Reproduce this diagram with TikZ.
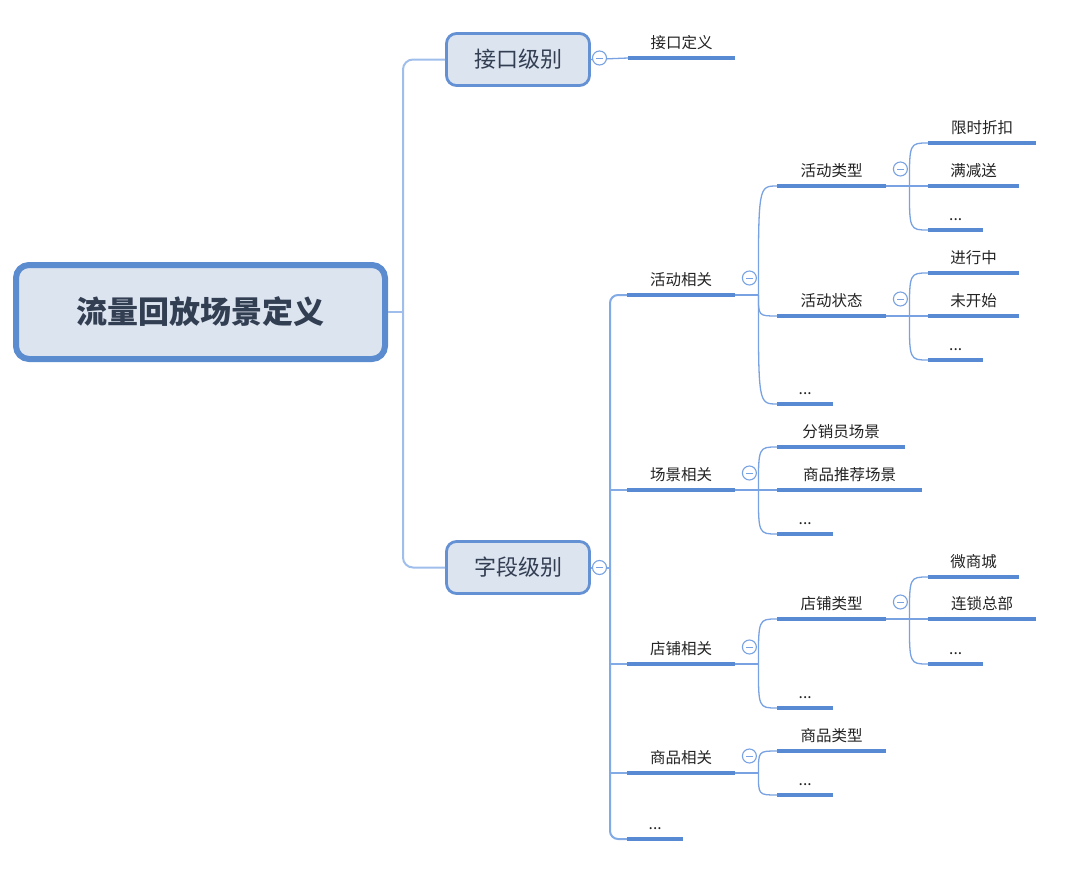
\documentclass[tikz,border=0pt]{standalone}
\usepackage{fontspec}
\newfontfamily\cjk{Noto Sans CJK SC}
\usetikzlibrary{calc}
\definecolor{ulc}{RGB}{88,138,212}
\definecolor{connc}{RGB}{120,162,225}
\definecolor{trunkc}{RGB}{160,190,235}
\definecolor{trunkb}{RGB}{130,170,228}
\definecolor{boxbd}{RGB}{100,145,212}
\definecolor{rootbd}{RGB}{92,140,208}
\definecolor{boxfill}{RGB}{220,228,240}
\definecolor{boxtext}{RGB}{50,62,82}
\definecolor{leaftext}{RGB}{35,35,35}
\tikzset{
  leaf/.style={anchor=south west, inner xsep=0pt, inner ysep=6pt, text height=11pt, text depth=3pt,
    font=\cjk\fontsize{15.5}{18}\selectfont, text=leaftext},
  uline/.style={draw=ulc, line width=3.5pt},
  conn/.style={draw=connc, line width=1.3pt},
  trunk/.style={draw=trunkc, line width=2pt},
  trunkb/.style={draw=trunkb, line width=2pt},
  coll/.style={circle, draw=connc, fill=white, line width=1.1pt, minimum size=14pt, inner sep=0pt,
    path picture={\draw[connc, line width=1pt] ([xshift=-3.2pt]path picture bounding box.center) -- ([xshift=3.2pt]path picture bounding box.center);}},
  lvl1/.style={draw=boxbd, line width=2.8pt, fill=boxfill, rounded corners=10pt, minimum width=143pt,
    minimum height=52pt, text=boxtext, font=\cjk\fontsize{22}{26}\selectfont},
  rootbox/.style={draw=rootbd, line width=6pt, fill=boxfill, rounded corners=13pt, minimum width=369pt,
    minimum height=94pt, text=boxtext, font=\cjk\bfseries\fontsize{31}{35}\selectfont}
}
\newcommand\leafnode[5]{\node[leaf, minimum width=#4pt] (#1) at (#2,#3) {#5};}
\newcommand\uline[1]{\draw[uline] (#1.south west) -- (#1.south east);}
\newcommand\branch[2]{\draw[conn] (#1) .. controls (#1 |- #2.south west) .. (#2.south west);}
\newcommand\junction[2]{\coordinate (#1) at ([xshift=23pt]#2.south east); \draw[conn] (#2.south east) -- (#1);}
\newcommand\collnode[2]{\node[coll] (#1) at ([shift={(14pt,17pt)}]#2.south east) {};}
\begin{document}
\begin{tikzpicture}[x=1pt, y=-1pt]
\useasboundingbox (0,0) rectangle (1080,870);

% main boxes
\node[rootbox] (root) at (200.5,312) {流量回放场景定义};
\node[lvl1] (k1) at (518,59.5) {接口级别};
\node[lvl1] (k2) at (518,567.5) {字段级别};

% leaves
\leafnode{k}{628}{58}{107}{接口定义}
\leafnode{h1}{627}{295}{108}{活动相关}
\leafnode{h2}{627}{490}{108}{场景相关}
\leafnode{h3}{627}{664}{108}{店铺相关}
\leafnode{h4}{627}{773}{108}{商品相关}
\leafnode{h5}{627}{839}{56}{...}

\leafnode{a1}{777}{186}{109}{活动类型}
\leafnode{a2}{777}{316}{109}{活动状态}
\leafnode{a3}{777}{404}{56}{...}
\leafnode{s1}{777}{447}{128}{分销员场景}
\leafnode{s2}{777}{490}{145}{商品推荐场景}
\leafnode{s3}{777}{534}{56}{...}
\leafnode{d1}{777}{619}{109}{店铺类型}
\leafnode{d2}{777}{708}{56}{...}
\leafnode{g1}{777}{751}{109}{商品类型}
\leafnode{g2}{777}{795}{56}{...}

\leafnode{t1}{928}{143}{108}{限时折扣}
\leafnode{t2}{928}{186}{91}{满减送}
\leafnode{t3}{928}{230}{55}{...}
\leafnode{u1}{928}{273}{91}{进行中}
\leafnode{u2}{928}{316}{91}{未开始}
\leafnode{u3}{928}{360}{55}{...}
\leafnode{w1}{928}{577}{91}{微商城}
\leafnode{w2}{928}{619}{108}{连锁总部}
\leafnode{w3}{928}{664}{55}{...}

% root connectors
\coordinate (rj) at (403,312);
\draw[trunk] (root.east) -- (rj);
\draw[trunk, rounded corners=10pt] (k1.west) -| (rj) |- (k2.west);

% 接口级别
\draw[conn] (k1.east) -- (k.south west);

% 字段级别 trunk
\coordinate (zt) at (610,567.5);
\draw[trunkb] (k2.east) -- (zt);
\draw[trunkb, rounded corners=8pt] (h1.south west) -| (zt) |- (h5.south west);
\draw[trunkb] (zt |- h2.south west) -- (h2.south west);
\draw[trunkb] (zt |- h3.south west) -- (h3.south west);
\draw[trunkb] (zt |- h4.south west) -- (h4.south west);

% level 3 branches
\junction{jh1}{h1}
\branch{jh1}{a1}\branch{jh1}{a2}\branch{jh1}{a3}
\junction{jh2}{h2}
\branch{jh2}{s1}\branch{jh2}{s2}\branch{jh2}{s3}
\junction{jh3}{h3}
\branch{jh3}{d1}\branch{jh3}{d2}
\junction{jh4}{h4}
\branch{jh4}{g1}\branch{jh4}{g2}

% level 4 branches
\junction{ja1}{a1}
\branch{ja1}{t1}\branch{ja1}{t2}\branch{ja1}{t3}
\junction{ja2}{a2}
\branch{ja2}{u1}\branch{ja2}{u2}\branch{ja2}{u3}
\junction{jd1}{d1}
\branch{jd1}{w1}\branch{jd1}{w2}\branch{jd1}{w3}

% underlines
\foreach \n in {k,h1,h2,h3,h4,h5,a1,a2,a3,s1,s2,s3,d1,d2,g1,g2,t1,t2,t3,u1,u2,u3,w1,w2,w3}{\uline{\n}}

% collapse markers
\node[coll] (c0) at (599.5,58) {};
\node[coll] (cz) at (599.5,567.5) {};
\collnode{ch1}{h1}
\collnode{ch2}{h2}
\collnode{ch3}{h3}
\collnode{ch4}{h4}
\collnode{ca1}{a1}
\collnode{ca2}{a2}
\collnode{cd1}{d1}
\end{tikzpicture}
\end{document}
